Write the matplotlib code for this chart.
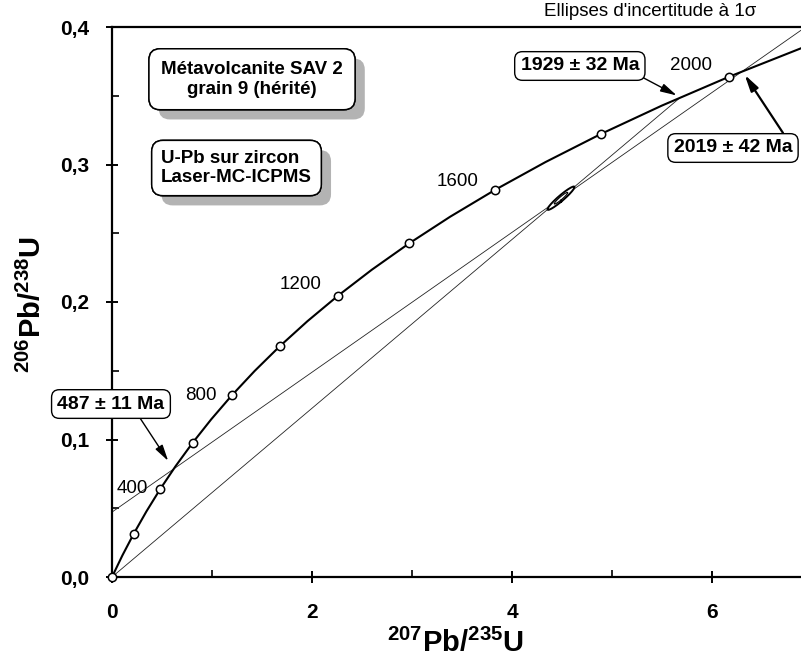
import numpy as np
import matplotlib
matplotlib.use("Agg")
import matplotlib.pyplot as plt
from matplotlib import font_manager
from matplotlib import patheffects


def have_font(name):
    try:
        font_manager.findfont(font_manager.FontProperties(family=name), fallback_to_default=False)
        return True
    except Exception:
        return False


narrow = 'Liberation Sans Narrow' if have_font('Liberation Sans Narrow') else 'Liberation Sans'
plt.rcParams['font.family'] = ['Liberation Sans', 'DejaVu Sans']
plt.rcParams['mathtext.fontset'] = 'custom'
plt.rcParams['mathtext.rm'] = narrow + ':bold'
plt.rcParams['mathtext.bf'] = narrow + ':bold'

# concordia curve (207Pb/235U, 206Pb/238U) every 100 Ma, 0 - 2100 Ma
curve_x = [0.0, 0.1035, 0.2177, 0.3437, 0.4828, 0.6363, 0.8056, 0.9925, 1.1987, 1.4263,
           1.6774, 1.9545, 2.2603, 2.5977, 2.9701, 3.3810, 3.8344, 4.3348, 4.8869, 5.4962,
           6.1685, 6.9105]
curve_y = [0.0, 0.01563, 0.03151, 0.04764, 0.06402, 0.08065, 0.09754, 0.11470, 0.13213, 0.14983,
           0.16780, 0.18605, 0.20459, 0.22344, 0.24257, 0.26200, 0.28172, 0.30176, 0.32212, 0.34276,
           0.36376, 0.38511]

# age marks (every 200 Ma)
mark_ages = [0, 200, 400, 600, 800, 1000, 1200, 1400, 1600, 1800, 2000]
mark_x = [0.0, 0.2177, 0.4828, 0.8056, 1.1987, 1.6774, 2.2603, 2.9701, 3.8344, 4.8869, 6.1685]
mark_y = [0.0, 0.03151, 0.06402, 0.09754, 0.13213, 0.16780, 0.20459, 0.24257, 0.28172, 0.32212, 0.36376]
label_ages = [400, 800, 1200, 1600, 2000]

# intercepts
origin = (0.0, 0.0)
upper_1929 = (5.684, 0.3488)
lower_487 = (0.6154, 0.0785)
upper_2019 = (6.3037, 0.3678)

# analysis (1 sigma)
ell_x, ell_sx = 4.49, 0.135
ell_y, ell_sy = 0.2755, 0.0085
ell_rho = 0.95

xticks = [0, 2, 4, 6]
xtick_labels = ['0', '2', '4', '6']
yticks = [0.0, 0.1, 0.2, 0.3, 0.4]
ytick_labels = ['0,0', '0,1', '0,2', '0,3', '0,4']

W, H = 801, 663
fig = plt.figure(figsize=(W / 100, H / 100), dpi=100)
ax = fig.add_axes([112 / W, (H - 577) / H, (W - 112) / W, 550 / H])
ax.set_xlim(0, 6.89)
ax.set_ylim(0, 0.4)

for s in ['left', 'bottom', 'top']:
    ax.spines[s].set_linewidth(1.6)
ax.spines['right'].set_visible(False)

ax.set_xticks(xticks)
ax.set_xticklabels(xtick_labels)
ax.set_yticks(yticks)
ax.set_yticklabels(ytick_labels)
ax.set_xticks([1, 3, 5], minor=True)
ax.set_yticks([0.05, 0.15, 0.25, 0.35], minor=True)
ax.tick_params(which='major', direction='inout', length=9, width=1.4, labelsize=15, pad=12)
ax.tick_params(axis='x', which='major', pad=14)
ax.tick_params(which='minor', direction='in', length=5, width=1.2)
ax.tick_params(top=False, right=False, which='both')
for lab in ax.get_xticklabels() + ax.get_yticklabels():
    lab.set_fontfamily(narrow)
    lab.set_fontweight('bold')

ax.set_xlabel('$^{207}$Pb/$^{235}$U', fontsize=21, fontweight='bold', fontfamily=narrow, va='center')
ax.set_ylabel('$^{206}$Pb/$^{238}$U', fontsize=21, fontweight='bold', fontfamily=narrow, va='center')
ax.xaxis.set_label_coords(0.499, -0.12)
ax.yaxis.set_label_coords(-0.116, 0.495)

# discordia lines
ax.plot([origin[0], upper_1929[0]], [origin[1], upper_1929[1]], color='#222222', lw=0.6, zorder=2)
ax.axline(lower_487, upper_2019, color='#222222', lw=0.6, zorder=2)

# concordia
ax.plot(curve_x, curve_y, color='k', lw=1.5, zorder=3)
ax.plot(mark_x, mark_y, 'o', mfc='white', mec='k', ms=6, mew=1.1, zorder=5, clip_on=False)

label_offsets = {400: (-9, 0), 800: (-11, 0), 1200: (-12, 8), 1600: (-12, 6), 2000: (-12, 8)}
for age in label_ages:
    i = mark_ages.index(age)
    ax.annotate(str(age), (mark_x[i], mark_y[i]), xytext=label_offsets[age],
                textcoords='offset points', ha='right', va='center', fontsize=13.5)

# 1 sigma error ellipse (double outline)
cov = np.array([[ell_sx ** 2, ell_rho * ell_sx * ell_sy],
                [ell_rho * ell_sx * ell_sy, ell_sy ** 2]])
vals, vecs = np.linalg.eigh(cov)
t = np.linspace(0, 2 * np.pi, 200)
for scale, lw, face in [(1.0, 1.4, 'white'), (0.5, 0.8, None)]:
    pts = vecs @ np.vstack([np.sqrt(vals[0]) * np.cos(t), np.sqrt(vals[1]) * np.sin(t)]) * scale
    if face:
        ax.fill(ell_x + pts[0], ell_y + pts[1], color=face, zorder=4)
    ax.plot(ell_x + pts[0], ell_y + pts[1], color='k', lw=lw, zorder=4)

ax.text(0.935, 1.012, "Ellipses d'incertitude à 1σ", transform=ax.transAxes,
        ha='right', va='bottom', fontsize=13.5)

# title boxes with shadow
def shadow_box(x, y, txt, pad, ha_multi):
    txt_obj = ax.text(x, y, txt, transform=ax.transAxes, color='k', zorder=7,
                      ha='center', va='center', fontsize=13.5, fontweight='bold',
                      multialignment=ha_multi, linespacing=1.2,
                      bbox=dict(boxstyle='round,pad=%s,rounding_size=0.6' % pad,
                                fc='white', ec='k', lw=1.1))
    txt_obj.get_bbox_patch().set_path_effects([
        patheffects.withSimplePatchShadow(offset=(7, -7), shadow_rgbFace='#b3b3b3', alpha=1.0),
        patheffects.Normal()])


shadow_box(0.2032, 0.905, 'Métavolcanite SAV 2\ngrain 9 (hérité)', 0.65, 'center')
shadow_box(0.1807, 0.7436, 'U-Pb sur zircon\nLaser-MC-ICPMS', 0.5, 'left')

# intercept call-outs
call_box = dict(boxstyle='round,pad=0.3,rounding_size=0.4', fc='white', ec='k', lw=1.0)
ax.text(0.679, 0.9291, '1929 ± 32 Ma', transform=ax.transAxes, ha='center', va='center',
        fontsize=14, fontweight='bold', bbox=call_box, zorder=7)
ax.text(0.9013, 0.78, '2019 ± 42 Ma', transform=ax.transAxes, ha='center', va='center',
        fontsize=14, fontweight='bold', bbox=call_box, zorder=7)
ax.text(-0.0015, 0.3145, '487 ± 11 Ma', transform=ax.transAxes, ha='center', va='center',
        fontsize=14, fontweight='bold', bbox=call_box, zorder=7, clip_on=False)

arrow = dict(arrowstyle='-|>,head_length=0.7,head_width=0.18', color='k', lw=1.0,
             shrinkA=0, shrinkB=3, mutation_scale=14)
ax.annotate('', xy=upper_1929, xytext=(0.7663, 0.9109), textcoords='axes fraction',
            arrowprops=arrow, zorder=6)
ax.annotate('', xy=upper_2019, xytext=(0.9739, 0.8073), textcoords='axes fraction',
            arrowprops=dict(arrow, lw=1.6), zorder=6)
ax.annotate('', xy=lower_487, xytext=(0.0406, 0.2891), textcoords='axes fraction',
            arrowprops=dict(arrow, shrinkB=7), zorder=6)

fig.savefig('out.png', dpi=100)
